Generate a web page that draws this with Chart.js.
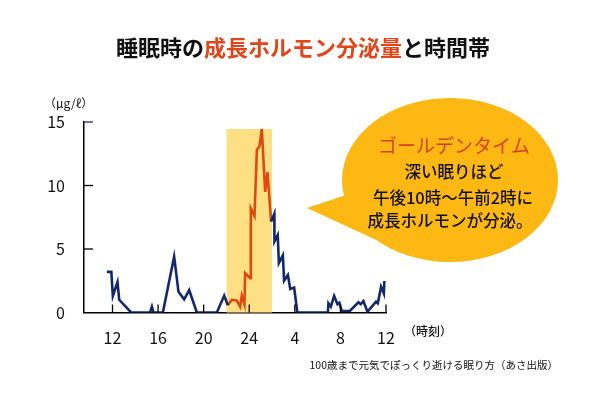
<!DOCTYPE html>
<html>
<head>
<meta charset="utf-8">
<script src="https://cdn.jsdelivr.net/npm/chart.js@4"></script>
<style>
  html, body { margin: 0; padding: 0; background: #fff; }
  #wrap { width: 600px; height: 400px; }
</style>
</head>
<body>
<div id="wrap"><canvas id="meuGrafico" width="600" height="400"></canvas></div>
<script>
// hours since midnight of day 1 (24 = midnight, 36 = noon next day)
var hours = [11.51, 11.9, 12.03, 12.44, 12.59, 13.64, 15.3, 15.46, 15.6, 16.42, 17.41, 17.79, 18.29, 18.73, 19.4, 21.16, 21.8,
  22.12, 22.47, 22.9, 23.2, 23.35, 23.58, 23.64, 24.08, 24.14, 24.46, 24.67, 24.9, 25.1, 25.4, 25.6, 25.92,
  26.2, 26.21, 26.5, 26.6, 26.95, 27.06, 27.39, 27.6, 27.94, 28.22, 30.9, 30.95, 31.16, 31.45, 31.74, 31.91, 32.12,
  32.85, 33.58, 33.78, 34.02, 34.37, 35.13, 35.28, 35.57, 35.81, 35.86];
var levels = [3.2, 3.2, 1.3, 2.4, 1.0, 0, 0, 0.46, 0, 0, 4.4, 1.64, 1.04, 1.77, 0, 0, 1.33,
  0.57, 1.0, 0.95, 0.46, 1.33, 0.65, 3.1, 2.7, 8.2, 7.6, 12.8, 13.1, 14.45, 9.5, 11.05, 7.16,
  7.77, 5.6, 6.1, 3.9, 4.5, 2.5, 2.95, 1.85, 1.96, 0, 0, 0.73, 0.46, 1.3, 0.65, 0.77, 0.12,
  0.14, 0.8, 0.65, 0.9, 0.06, 0.85, 0.73, 2.03, 1.5, 2.48];
var goldenStart = 22.12;
var goldenEnd = 25.92;
var bandFrom = 22, bandTo = 26, bandTop = 14.45;
var tickHours = [12, 16, 20, 24, 28, 32, 36];
var tickLabels = ["12", "16", "20", "24", "4", "8", "12"];
var yTicks = [0, 5, 10, 15];

var FONT = '"Noto Sans CJK JP", "Noto Sans", sans-serif';

var azul = [], vermelho = [];
for (var i = 0; i < hours.length; i++) {
  var p = {x: hours[i], y: levels[i]};
  if (hours[i] >= goldenStart && hours[i] <= goldenEnd) vermelho.push(p);
  if (hours[i] <= goldenStart || hours[i] >= goldenEnd) {
    if (hours[i] == goldenEnd) azul.push({x: 24, y: null});
    azul.push(p);
  }
}

var enfeites = {
  id: "enfeites",
  beforeDatasetsDraw: function(chart){
    var c = chart.ctx, sx = chart.scales.x, sy = chart.scales.y;
    c.save();
    c.fillStyle = "#fde084";
    var x1 = sx.getPixelForValue(bandFrom), x2 = sx.getPixelForValue(bandTo);
    var y1 = sy.getPixelForValue(bandTop), y2 = sy.getPixelForValue(0);
    c.fillRect(x1, y1, x2 - x1, y2 - y1);
    c.restore();
  },
  afterDraw: function(chart){
    var c = chart.ctx, sx = chart.scales.x, sy = chart.scales.y;
    var area = chart.chartArea;
    c.save();
    // little ticks pointing inside
    c.strokeStyle = "#000";
    c.lineWidth = 1.3;
    tickHours.forEach(function(h){
      var x = sx.getPixelForValue(h);
      c.beginPath(); c.moveTo(x, area.bottom); c.lineTo(x, area.bottom - 8); c.stroke();
    });
    yTicks.forEach(function(v){
      if (v == 0) return;
      var y = sy.getPixelForValue(v);
      c.strokeStyle = v == 15 ? "#1a2a6e" : "#000";
      c.beginPath(); c.moveTo(area.left, y); c.lineTo(area.left + 9, y); c.stroke();
    });

    // title
    c.textBaseline = "middle";
    c.font = "bold 22px " + FONT;
    var parts = [["睡眠時の", "#111"], ["成長ホルモン分泌量", "#e0461a"], ["と時間帯", "#111"]];
    var total = 0;
    parts.forEach(function(p){ total += c.measureText(p[0]).width; });
    var tx = 303 - total / 2;
    parts.forEach(function(p){
      c.fillStyle = p[1];
      c.textAlign = "left";
      c.fillText(p[0], tx, 48);
      tx += c.measureText(p[0]).width;
    });

    // units
    c.fillStyle = "#111";
    c.font = "12px " + FONT;
    c.fillText("（μg/ℓ）", 44, 103);
    c.font = "500 12px " + FONT;
    c.fillText("（時刻）", 404, 331);
    c.font = "10.5px " + FONT;
    c.textAlign = "right";
    c.fillText("100歳まで元気でぽっくり逝ける眠り方（あさ出版）", 558, 365);

    // speech bubble
    c.fillStyle = "#fdb813";
    c.beginPath();
    c.moveTo(307, 208); c.lineTo(352, 193); c.lineTo(398, 250); c.closePath();
    c.fill();
    c.beginPath();
    c.ellipse(450, 180, 108, 82, 0, 0, Math.PI * 2);
    c.fill();

    c.textAlign = "center";
    c.fillStyle = "#d8401c";
    c.font = "19px " + FONT;
    c.fillText("ゴールデンタイム", 454, 146);
    c.fillStyle = "#111";
    c.font = "500 16.5px " + FONT;
    c.fillText("深い眠りほど", 454, 172);
    c.fillText("午後10時〜午前2時に", 453, 198);
    c.fillText("成長ホルモンが分泌。", 450, 221);
    c.restore();
  }
};

new Chart("meuGrafico", {
  type: "line",
  data: {
    datasets: [{
      data: azul,
      borderColor: "#12286e",
      borderWidth: 2.6,
      pointRadius: 0,
      fill: false,
      lineTension: 0,
      spanGaps: false
    }, {
      data: vermelho,
      borderColor: "#e0480f",
      borderWidth: 2.6,
      pointRadius: 0,
      fill: false,
      lineTension: 0
    }]
  },
  options: {
    responsive: false,
    animation: false,
    events: [],
    layout: {padding: {top: 122, right: 214, left: 0, bottom: 0}},
    plugins: {legend: {display: false}, tooltip: {enabled: false}},
    scales: {
      x: {
        type: "linear",
        min: 9.5,
        max: 36,
        grid: {display: false},
        border: {display: true, color: "#000", width: 1.5},
        afterBuildTicks: function(s){ s.ticks = tickHours.map(function(h){ return {value: h}; }); },
        afterFit: function(s){ s.height = 87.5; },
        ticks: {
          color: "#111",
          padding: 8,
          maxRotation: 0,
          autoSkip: false,
          font: {family: FONT, size: 16},
          callback: function(v){ return tickLabels[tickHours.indexOf(v)]; }
        }
      },
      y: {
        min: 0,
        max: 15,
        grid: {display: false},
        border: {display: true, color: "#000", width: 1.5},
        afterBuildTicks: function(s){ s.ticks = yTicks.map(function(v){ return {value: v}; }); },
        afterFit: function(s){ s.width = 84; },
        ticks: {
          color: "#111",
          padding: 11,
          font: {family: FONT, size: 16}
        }
      }
    }
  },
  plugins: [enfeites]
});
</script>
</body>
</html>
